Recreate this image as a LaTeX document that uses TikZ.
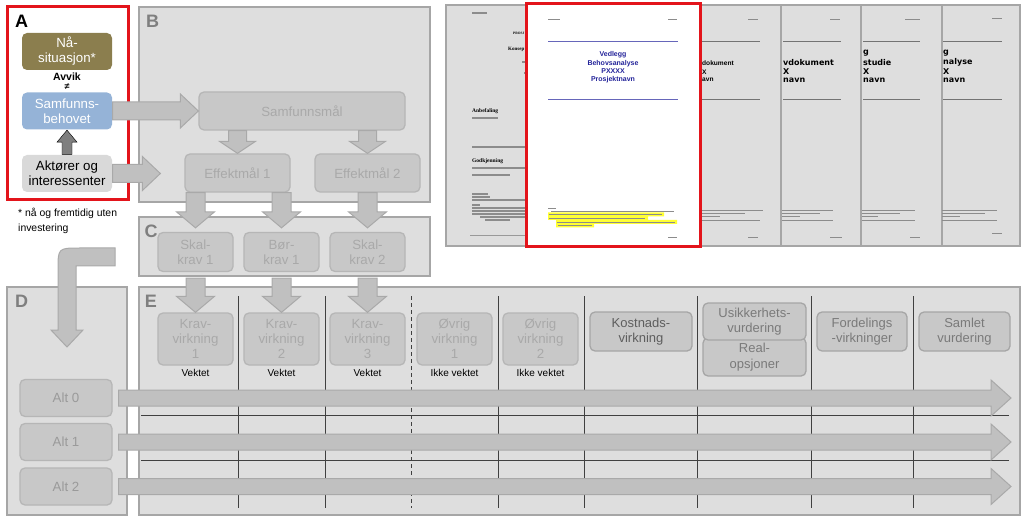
\documentclass[tikz,border=0pt]{standalone}
\usepackage{fontspec}
\setmainfont{Liberation Sans}
\newfontfamily\serifdoc{Liberation Serif}
\newfontfamily\sansdoc{DejaVu Sans}
\usetikzlibrary{calc,positioning}
\definecolor{regfill}{HTML}{DEDEDE}\definecolor{regline}{HTML}{A6A6A6}\definecolor{lblgray}{HTML}{7F7F7F}
\definecolor{boxfill}{HTML}{C8C8C8}\definecolor{boxline}{HTML}{B6B6B6}\definecolor{fadetext}{HTML}{A9A9A9}
\definecolor{midtext}{HTML}{7A7A7A}\definecolor{darktext}{HTML}{5E5E5E}\definecolor{alttext}{HTML}{9A9A9A}
\definecolor{arrfill}{HTML}{C0C0C0}\definecolor{arrline}{HTML}{A9A9A9}\definecolor{uparr}{HTML}{7F7F7F}
\definecolor{naafill}{HTML}{8B7E4E}\definecolor{behovfill}{HTML}{95B3D7}\definecolor{aktfill}{HTML}{D9D9D9}
\definecolor{framered}{HTML}{E3141B}\definecolor{titleblue}{HTML}{24249A}\definecolor{sepline}{HTML}{404040}
\definecolor{hilite}{HTML}{FFFF33}
\tikzset{
 reg/.style={fill=regfill,draw=regline,line width=2pt},
 reglbl/.style={text=lblgray,font=\fontsize{18}{18}\selectfont\bfseries,inner sep=0pt},
 basebox/.style 2 args={rounded corners=5pt,line width=1.3pt,align=center,inner sep=0pt,minimum width=#1,minimum height=#2,font=\fontsize{13.3}{15}\selectfont},
 abox/.style={basebox={90pt}{37pt},draw=none},
 fadebox/.style 2 args={basebox={#1}{#2},fill=boxfill,draw=boxline,text=fadetext},
 workbox/.style 2 args={basebox={#1}{#2},fill=boxfill,draw=regline,text=midtext,font=\fontsize{13}{15.5}\selectfont},
 altbox/.style={basebox={92pt}{37pt},fill=boxfill,draw=boxline,text=alttext},
 note/.style={font=\fontsize{10}{10}\selectfont,inner sep=0pt},
 blk/.style={fill=arrfill,draw=arrline,line width=1pt},
 sep/.style={draw=sepline,line width=0.9pt},
 txt/.style={line width=1.2pt,draw=black!45},
 pgtitle/.style={font=\sansdoc\fontsize{8}{8}\selectfont\bfseries,anchor=west,inner sep=0pt}
}
\newcommand\varr[6][blk]{\draw[#1] let \p1=(#2),\p2=(#3),\n1={(\y1>\y2)*2-1} in (\x1-#4,\y1) -- (\x1+#4,\y1) -- (\x1+#4,\y2+\n1*#6) -- (\x1+#5,\y2+\n1*#6) -- (\x1,\y2) -- (\x1-#5,\y2+\n1*#6) -- (\x1-#4,\y2+\n1*#6) -- cycle;}
\newcommand\harr[6][blk]{\draw[#1] let \p1=(#2),\p2=(#3) in (\x1,\y1+#4) -- (\x2-#6,\y1+#4) -- (\x2-#6,\y1+#5) -- (\x2,\y1) -- (\x2-#6,\y1-#5) -- (\x2-#6,\y1-#4) -- (\x1,\y1-#4) -- cycle;}
\begin{document}
\begin{tikzpicture}[x=1pt,y=-1pt]
 \useasboundingbox (0,0) rectangle (1024,518);
 \draw[reg] (139,7) rectangle (430,202);\draw[reg] (139,217) rectangle (430,276);
 \draw[reg] (7,287) rectangle (127,515);\draw[reg] (139,287) rectangle (1020,515);
 \draw[framered,line width=3pt] (7,7) rectangle (128,200);
 \node[reglbl,text=black] (lblA) at (21.5,21.5) {A};\node[reglbl] (lblB) at (152.5,21.5) {B};
 \node[reglbl] (lblC) at (151,231.5) {C};\node[reglbl] (lblD) at (21.5,301.5) {D};\node[reglbl] (lblE) at (151,301) {E};

 \node[abox,fill=naafill,text=white] (naa) at (67,51.5) {Nå-\\situasjon*};
 \node[font=\fontsize{10.5}{10.5}\selectfont\bfseries,inner sep=0pt] (avvik) at (67,77) {Avvik};
 \node[font=\fontsize{9}{9}\selectfont\bfseries,inner sep=0pt,below=2.5pt of avvik] (neq) {≠};
 \node[abox,fill=behovfill,text=white] (behov) at (67,111) {Samfunns-\\behovet};
 \node[abox,fill=aktfill] (akt) at (67,173.5) {Aktører og\\interessenter};
 \node[note,anchor=north west,align=left,font=\fontsize{10.4}{15}\selectfont] (fnote) at (18,208) {* nå og fremtidig uten\\investering};
 \varr[fill=uparr]{akt.north}{behov.south}{5pt}{10pt}{12pt}

 \node[fadebox={206pt}{38pt}] (sam) at (302,111) {Samfunnsmål};
 \node[fadebox={105pt}{38pt}] (eff1) at (237.5,173) {Effektmål 1};
 \node[fadebox={105pt}{38pt}] (eff2) at (367.5,173) {Effektmål 2};
 \foreach \n/\x/\t in {sk1/195.5/{Skal-\\krav 1},bk1/281.5/{Bør-\\krav 1},sk2/367.5/{Skal-\\krav 2}}
  \node[fadebox={75pt}{39pt}] (\n) at (\x,252) {\t};

 \foreach \x in {238,325,498,584,697,811,913} \draw[sep] (\x,296) -- (\x,508);
 \draw[sep,dash pattern=on 4pt off 3pt] (411,296) -- (411,508);
 \foreach \y in {415,460} \draw[sep] (141,\y) -- (1009,\y);
 \foreach \n/\x/\t/\w in {kv1/195.5/{Krav-\\virkning\\1}/Vektet,kv2/281.5/{Krav-\\virkning\\2}/Vektet,kv3/367.5/{Krav-\\virkning\\3}/Vektet,ov1/454.5/{Øvrig\\virkning\\1}/Ikke vektet,ov2/540.5/{Øvrig\\virkning\\2}/Ikke vektet}{
  \node[fadebox={75pt}{52pt}] (\n) at (\x,339) {\t};
  \node[note,below=3pt of \n] (\n-w) {\w};}
 \node[workbox={102pt}{39pt},text=darktext] (kost) at (641,331.5) {Kostnads-\\virkning};
 \node[workbox={103pt}{38pt}] (real) at (754.5,357) {Real-\\opsjoner};
 \node[workbox={103pt}{37pt}] (usik) at (754.5,321.5) {Usikkerhets-\\vurdering};
 \node[workbox={90pt}{39pt}] (ford) at (862,331.5) {Fordelings\\-virkninger};
 \node[workbox={91pt}{39pt}] (saml) at (964.5,331.5) {Samlet\\vurdering};

 \foreach \i/\y in {0/398,1/442,2/486.5} \node[altbox] (alt\i) at (66,\y) {Alt \i};
 \coordinate (eEnd) at (1011,0);
 \foreach \i in {0,1,2} {\harr{$(alt\i.east)+(6,0)$}{alt\i -| eEnd}{8pt}{18pt}{20pt}}
 \draw[blk] (115,248) -- (80,248) .. controls (58,248) .. (58,270) -- (58,330) -- (51,330) -- (67,347) -- (83,330) -- (76,330) -- (76,266) -- (115,266) -- cycle;

 \harr{behov.east}{sam.west}{9pt}{17pt}{18pt}
 \harr{akt.east}{$(eff1.west)+(-24,0)$}{9pt}{17pt}{18pt}
 \varr{sam.south -| eff1}{eff1.north}{9pt}{18pt}{12pt}\varr{sam.south -| eff2}{eff2.north}{9pt}{18pt}{12pt}
 \varr{eff1.south -| sk1}{$(sk1.north)+(0,-4)$}{9.5pt}{19pt}{16pt}
 \varr{eff1.south -| bk1}{$(bk1.north)+(0,-4)$}{9.5pt}{19pt}{16pt}
 \varr{eff2.south -| sk2}{$(sk2.north)+(0,-4)$}{9.5pt}{19pt}{16pt}
 \foreach \a/\b in {sk1/kv1,bk1/kv2,sk2/kv3} {\varr{$(\a.south)+(0,6)$}{\b.north}{9.5pt}{19pt}{16pt}}

 \draw[reg] (446,5) rectangle (1020,246);
 \foreach \x in {781,861,942} \draw[regline,line width=2pt] (\x,5) -- (\x,246);
 \foreach \a/\b in {701/760,783/841,863/920,943/1002} \draw[black!55,line width=0.8pt] (\a,41) -- (\b,41) (\a,99) -- (\b,99);
 \foreach \a/\b/\y in {748/758/19,830/840/19,905/920/19,992/1002/18,748/758/237,830/842/237,910/920/237,992/1002/233,
  702/763/210,702/745/213,702/720/216,702/760/220,782/833/210,782/820/213,782/800/216,782/833/220,
  862/915/210,862/900/213,862/878/216,862/915/220,942/997/210,942/985/213,942/960/216,942/997/220}
  \draw[txt,line width=0.9pt] (\a,\y) -- (\b,\y);
 \node[font=\fontsize{6.6}{6.6}\selectfont\bfseries,anchor=west,inner sep=0pt] (p3a) at (702,63) {dokument};
 \node[font=\fontsize{6.6}{6.6}\selectfont\bfseries,anchor=west,inner sep=0pt] (p3b) at (702,72) {X};
 \node[font=\fontsize{6.6}{6.6}\selectfont\bfseries,anchor=west,inner sep=0pt] (p3c) at (702,80) {avn};
 \foreach \x/\w in {783/vdokument,863/studie,943/nalyse}{
  \node[pgtitle] (p\x a) at (\x,62.5) {\w};\node[pgtitle] (p\x b) at (\x,71.5) {X};\node[pgtitle] (p\x c) at (\x,80.5) {navn};}
 \node[pgtitle] (p863g) at (863,53) {g};\node[pgtitle] (p943g) at (943,53) {g};

 \foreach \a/\b/\y in {472/487/13,522/526/62,524/526/73,472/498/118,472/526/147,472/526/168,472/510/175,472/488/194,472/490/197,472/526/200,
  472/480/205,472/526/208,472/526/211,472/526/214,480/526/217,485/510/220}
  \draw[txt] (\a,\y) -- (\b,\y);
 \draw[black!40,line width=0.8pt] (470,235) -- (526,235);
 \node[font=\serifdoc\fontsize{3.5}{3.5}\selectfont\bfseries,anchor=west,inner sep=0pt] (p1a) at (513,33) {PROSJ};
 \node[font=\serifdoc\fontsize{5}{5}\selectfont\bfseries,anchor=west,inner sep=0pt] (p1b) at (508,49) {Konsep};
 \node[font=\serifdoc\fontsize{5.5}{5.5}\selectfont\bfseries,anchor=west,inner sep=0pt] (p1c) at (472,111) {Anbefaling};
 \node[font=\serifdoc\fontsize{5.5}{5.5}\selectfont\bfseries,anchor=west,inner sep=0pt] (p1d) at (472,161) {Godkjenning};

 \draw[framered,line width=3pt,fill=white] (526,4) rectangle (700,247);
 \draw[black!45!blue!60,line width=0.8pt] (548,41) -- (678,41) (548,99) -- (678,99);
 \node[font=\fontsize{7}{8.4}\selectfont\bfseries,text=titleblue,align=center,inner sep=0pt] (ptitle) at (613,67.5) {Vedlegg\\Behovsanalyse\\PXXXX\\Prosjektnavn};
 \fill[hilite] (548,212.5) rectangle (664,216.5) (548,216.5) rectangle (648,220) (556,220) rectangle (677,224) (556,224) rectangle (594,227.5);
 \foreach \a/\b/\y in {548/560/19,668/677/19,668/677/237,548/556/208,551/674/211,549/662/214.5,549/645/218,557/675/222,558/592/225.5}
  \draw[txt,line width=0.9pt] (\a,\y) -- (\b,\y);
\end{tikzpicture}
\end{document}
